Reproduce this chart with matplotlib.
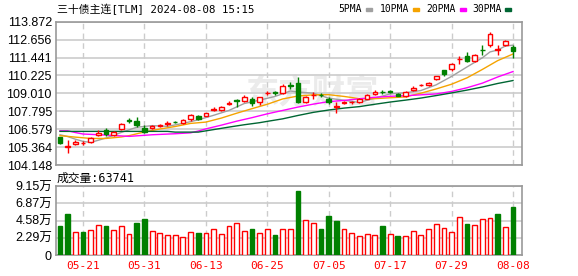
import numpy as np
import matplotlib.pyplot as plt
from matplotlib.patches import Rectangle

plt.rcParams['font.family'] = ['Liberation Sans', 'Noto Sans CJK SC']

# ---- data ----
dates = ['05-16', '05-17', '05-20', '05-21', '05-22', '05-23', '05-24', '05-27', '05-28', '05-29',
         '05-30', '05-31', '06-03', '06-04', '06-05', '06-06', '06-07', '06-11', '06-12', '06-13',
         '06-14', '06-17', '06-18', '06-19', '06-20', '06-21', '06-24', '06-25', '06-26', '06-27',
         '06-28', '07-01', '07-02', '07-03', '07-04', '07-05', '07-08', '07-09', '07-10', '07-11',
         '07-12', '07-15', '07-16', '07-17', '07-18', '07-19', '07-22', '07-23', '07-24', '07-25',
         '07-26', '07-29', '07-30', '07-31', '08-01', '08-02', '08-05', '08-06', '08-07', '08-08']

opens = [106.02, 105.40, 105.59, 105.61, 105.70, 106.20, 106.52, 106.20, 106.57, 107.17,
         107.15, 106.65, 106.65, 106.82, 106.95, 107.08, 106.97, 107.24, 107.49, 107.49,
         107.90, 107.86, 108.31, 108.53, 108.51, 108.60, 108.42, 109.03, 109.07, 109.01,
         109.55, 109.69, 108.42, 108.87, 108.92, 108.64, 108.10, 108.38, 108.40, 108.42,
         108.65, 108.96, 109.12, 109.15, 108.97, 108.83, 109.25, 109.55, 109.55, 109.96,
         110.59, 110.64, 111.34, 111.54, 111.18, 111.97, 112.31, 111.98, 112.27, 112.13]
highs = [106.08, 105.84, 105.84, 105.75, 106.04, 106.52, 106.65, 106.45, 106.97, 107.33,
         107.42, 106.88, 106.84, 106.92, 107.13, 107.13, 107.24, 107.58, 107.56, 107.70,
         108.05, 108.12, 108.47, 108.60, 108.87, 108.74, 108.78, 109.15, 109.20, 109.62,
         109.75, 110.14, 108.82, 109.08, 109.05, 108.78, 108.42, 108.50, 108.52, 108.68,
         108.96, 109.22, 109.25, 109.25, 109.05, 109.15, 109.52, 109.65, 109.80, 110.22,
         110.59, 111.05, 111.54, 111.81, 111.65, 112.27, 113.17, 112.27, 112.60, 112.31]
lows = [105.57, 104.98, 105.50, 105.48, 105.63, 106.11, 106.11, 106.11, 106.52, 106.97,
        106.74, 106.34, 106.56, 106.70, 106.79, 107.00, 106.93, 107.10, 107.20, 107.45,
        107.80, 107.80, 108.20, 108.10, 108.45, 108.15, 108.25, 108.90, 108.92, 108.98,
        109.30, 108.33, 108.38, 108.64, 108.75, 108.28, 107.69, 108.28, 108.30, 108.38,
        108.60, 108.90, 108.95, 109.02, 108.80, 108.78, 109.15, 109.48, 109.50, 109.93,
        110.20, 110.50, 111.02, 111.14, 111.14, 111.59, 112.17, 111.63, 112.25, 111.41]
closes = [105.66, 105.42, 105.72, 105.63, 105.95, 106.34, 106.25, 106.38, 106.90, 107.15,
          106.88, 106.38, 106.79, 106.84, 106.97, 107.06, 107.20, 107.54, 107.29, 107.65,
          107.92, 108.08, 108.33, 108.51, 108.78, 108.37, 108.74, 109.06, 109.04, 109.48,
          109.52, 108.42, 108.78, 108.89, 108.88, 108.42, 108.12, 108.40, 108.42, 108.60,
          108.90, 109.12, 109.10, 109.13, 108.83, 109.08, 109.40, 109.57, 109.73, 110.16,
          110.32, 111.00, 111.36, 111.18, 111.59, 111.95, 113.04, 112.00, 112.54, 111.86]
volumes = [39100, 54200, 30700, 31100, 33300, 40000, 39100, 33300, 38700, 28000,
           43100, 48400, 32000, 29300, 26700, 26700, 24000, 30700, 29800, 29800,
           34700, 28000, 38700, 42700, 32000, 35100, 29800, 34700, 27100, 34700,
           34200, 85300, 46200, 42200, 34700, 52000, 45300, 34200, 28900, 24900,
           27600, 26200, 38700, 27600, 25300, 24900, 31600, 26200, 34200, 40900,
           35600, 30200, 50200, 41300, 39600, 47600, 48900, 54700, 36900, 63741]

ma5_x = [0, 1, 2, 3, 4, 6, 8, 10, 12, 14, 16, 18, 20, 22, 24, 26, 28, 30, 31, 33, 35, 37,
         39, 41, 43, 45, 47, 49, 51, 53, 55, 56, 57, 58, 59]
ma5_y = [106.20, 106.08, 105.90, 105.75, 105.68, 105.98, 106.36, 106.71, 106.82, 106.77,
         106.97, 107.21, 107.52, 107.85, 108.32, 108.55, 108.80, 109.17, 109.10, 109.02,
         108.68, 108.54, 108.39, 108.69, 108.97, 109.05, 109.20, 109.59, 110.16, 110.80,
         111.42, 111.82, 111.95, 112.22, 112.28]

ma10_x = [0, 2, 4, 6, 8, 9, 11, 13, 15, 17, 19, 21, 23, 25, 27, 29, 31, 33, 35, 37, 39, 41,
          43, 45, 47, 49, 51, 53, 55, 57, 59]
ma10_y = [106.14, 106.04, 105.95, 105.95, 106.05, 106.14, 106.39, 106.59, 106.76, 106.97,
          107.06, 107.33, 107.66, 107.97, 108.27, 108.63, 108.83, 108.91, 108.92, 108.80,
          108.65, 108.65, 108.71, 108.77, 109.02, 109.31, 109.63, 110.06, 110.63, 111.23,
          111.68]

ma20_x = [0, 1, 2, 3, 6, 9, 12, 15, 17, 18, 19, 21, 23, 25, 27, 29, 31, 33, 35, 37, 39, 41,
          43, 45, 47, 49, 51, 53, 55, 57, 59]
ma20_y = [106.47, 106.47, 106.35, 106.25, 106.18, 106.09, 106.20, 106.27, 106.33, 106.45,
          106.60, 106.85, 107.12, 107.36, 107.62, 107.85, 108.08, 108.28, 108.45, 108.53,
          108.64, 108.74, 108.81, 108.85, 108.91, 108.97, 109.14, 109.39, 109.70, 110.12,
          110.49]

ma30_x = [0, 14, 15, 18, 20, 22, 24, 26, 27, 29, 31, 33, 35, 37, 39, 41, 43, 45, 47, 49,
          51, 53, 55, 57, 59]
ma30_y = [106.43, 106.43, 106.38, 106.38, 106.55, 106.72, 106.88, 107.02, 107.11, 107.28,
          107.51, 107.72, 107.88, 108.01, 108.11, 108.27, 108.42, 108.55, 108.69, 108.86,
          109.04, 109.23, 109.44, 109.68, 109.88]

price_ticks = [104.148, 105.364, 106.579, 107.795, 109.010, 110.225, 111.441, 112.656, 113.872]
vol_ticks = [0, 22900, 45800, 68700, 91500]
vol_labels = ['0', '2.29万', '4.58万', '6.87万', '9.15万']
date_ticks = [3, 11, 19, 27, 35, 43, 51, 59]

RED = '#ff0000'
GREEN = '#008000'
GRID = '#cccccc'
FRAME = '#999999'

W, H = 578, 276
fig = plt.figure(figsize=(W / 100, H / 100), dpi=100)
ax1 = fig.add_axes([56 / W, 1 - 165 / H, 466 / W, 143.3 / H])
ax2 = fig.add_axes([56 / W, 1 - 255 / H, 466 / W, 68.7 / H])

x = np.arange(len(closes))
o = np.array(opens)
c = np.array(closes)
up = c >= o

# watermark
ax1.text(312 / W, 1 - 94 / H, '东方财富', transform=fig.transFigure, fontsize=24,
         fontweight='bold', color='#ebebeb', ha='center', va='center', zorder=0,
         family=['Noto Sans CJK SC'])

# candles
for i in x:
    col = RED if up[i] else GREEN
    top = max(o[i], c[i])
    bot = min(o[i], c[i])
    ax1.vlines(i, top, highs[i], color=col, lw=1, zorder=3)
    ax1.vlines(i, lows[i], bot, color=col, lw=1, zorder=3)
    ax1.add_patch(Rectangle((i - 0.3, bot), 0.6, top - bot, lw=1, zorder=4,
                            facecolor='white' if up[i] else col, edgecolor=col))

ax1.plot(ma5_x, ma5_y, color='#a0a0a0', lw=1, zorder=2)
ax1.plot(ma10_x, ma10_y, color='#f5a300', lw=1, zorder=2)
ax1.plot(ma20_x, ma20_y, color='#ff00ff', lw=1, zorder=2)
ax1.plot(ma30_x, ma30_y, color='#006633', lw=1, zorder=2)

# volume
vol_up = np.concatenate([[up[0]], c[1:] >= c[:-1]])
fc = ['white' if u else GREEN for u in vol_up]
ec = [RED if u else GREEN for u in vol_up]
ax2.bar(x, volumes, width=0.62, color=fc, edgecolor=ec, lw=1, zorder=3)

for ax in (ax1, ax2):
    ax.set_xlim(-0.52, 60.17)
    for s in ax.spines.values():
        s.set_color(FRAME)
        s.set_linewidth(1.2)
    ax.tick_params(length=0, pad=3, labelsize=9)
    for d in date_ticks:
        ax.axvline(d, color=GRID, lw=1, ls=(0, (4, 3)), zorder=1)

ax1.set_ylim(price_ticks[0], price_ticks[-1])
ax1.set_yticks(price_ticks)
ax1.set_yticklabels(['%.3f' % p for p in price_ticks])
ax1.set_xticks([])
for p in price_ticks:
    ax1.axhline(p, color=GRID, lw=1.2, zorder=1)

ax2.set_ylim(0, 91500)
ax2.set_yticks(vol_ticks)
ax2.set_yticklabels(vol_labels)
for v in vol_ticks:
    ax2.axhline(v, color=GRID, lw=1.2, zorder=1)
ax2.set_xticks(date_ticks)
ax2.set_xticklabels([dates[d] for d in date_ticks], color=RED, fontsize=8,
                    family='DejaVu Sans Mono')
ax2.tick_params(axis='x', pad=4)

# texts
fig.text(57 / W, 1 - 9.5 / H, '三十债主连[TLM] 2024-08-08 15:15', fontsize=7.8, va='center',
         family=['DejaVu Sans Mono', 'Noto Sans CJK SC'])
fig.text(57 / W, 1 - 178 / H, '成交量:63741', fontsize=8.5, va='center',
         family=['DejaVu Sans Mono', 'Noto Sans CJK SC'])

legend = [('5PMA', 338, 366, '#a0a0a0'), ('10PMA', 380, 413, '#f5a300'),
          ('20PMA', 426, 460, '#ff00ff'), ('30PMA', 472, 505, '#006633')]
for name, tx, mx, col in legend:
    fig.text(tx / W, 1 - 9.5 / H, name, fontsize=7, va='center', family='DejaVu Sans Mono')
    fig.add_artist(Rectangle((mx / W, 1 - 11 / H), 5.5 / W, 3.5 / H, color=col,
                             transform=fig.transFigure))

fig.savefig('out.png', dpi=100)
